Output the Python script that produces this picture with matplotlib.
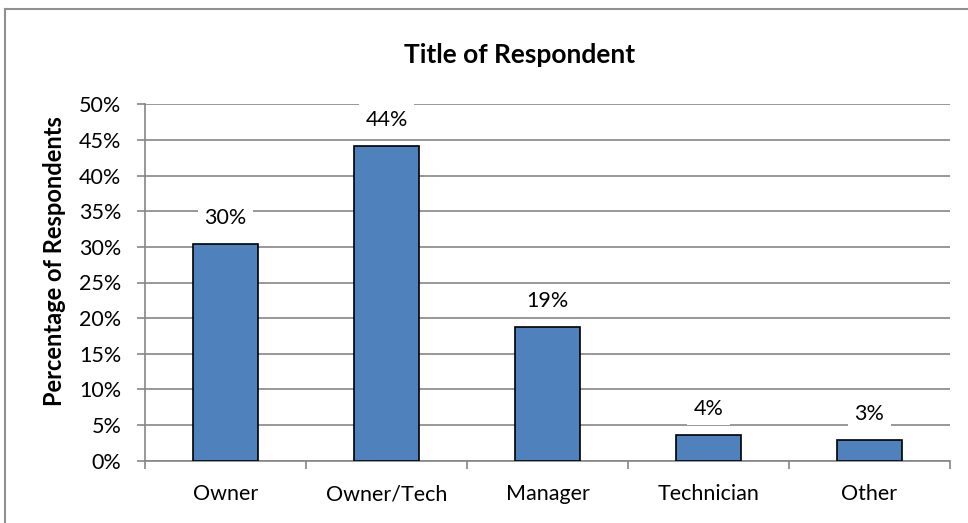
import matplotlib
matplotlib.use("Agg")
import matplotlib.pyplot as plt
from matplotlib.ticker import FixedLocator, FuncFormatter
from matplotlib.lines import Line2D
import numpy as np

categories = ["Owner", "Owner/Tech", "Manager", "Technician", "Other"]
values = [30.4, 44.2, 18.8, 3.6, 2.9]
labels = ["30%", "44%", "19%", "4%", "3%"]
yticks = [0, 5, 10, 15, 20, 25, 30, 35, 40, 45, 50]

plt.rcParams['font.family'] = ['Lato', 'DejaVu Sans']

fig = plt.figure(figsize=(9.68, 5.23), dpi=100)
ax = fig.add_axes([145/968, 1-460.7/523, (950-145)/968, (460.7-104.3)/523])

grid_c = "#868686"
x = np.arange(len(categories))
ax.bar(x, values, width=0.4, color="#4F81BD", edgecolor="black", linewidth=1.2, zorder=3)

ax.set_xlim(-0.5, len(categories)-0.5)
ax.set_ylim(0, 50)
ax.yaxis.set_major_locator(FixedLocator(yticks))
ax.yaxis.set_major_formatter(FuncFormatter(lambda v, p: f"{v:.0f}%"))
ax.yaxis.grid(True, color=grid_c, linewidth=1.2, zorder=0)
ax.set_axisbelow(True)

ax.set_xticks(x)
ax.set_xticklabels(categories, fontsize=15.5)
ax.set_xticks(np.arange(-0.5, len(categories)), minor=True)
ax.tick_params(axis='x', which='major', length=0, pad=17)
ax.tick_params(axis='x', which='minor', length=6, color=grid_c, width=1.2, direction='out')
ax.tick_params(axis='y', length=6, color=grid_c, width=1.2, labelsize=15.5, pad=11)

for s in ['top', 'right']:
    ax.spines[s].set_visible(False)
for s in ['left', 'bottom']:
    ax.spines[s].set_color(grid_c)
    ax.spines[s].set_linewidth(1.2)

for xi, v, lab in zip(x, values, labels):
    ax.annotate(lab, (xi, v), xytext=(0, 26), textcoords='offset pixels',
                ha='center', va='center', fontsize=15.5, zorder=4,
                bbox=dict(boxstyle='square,pad=0.3', facecolor='white', edgecolor='none'))

ax.set_ylabel("Percentage of Respondents", fontsize=17, fontweight='bold')
ax.yaxis.set_label_coords(66/968, 0.5, transform=fig.transFigure)
fig.text(520/968, 1-55/523, "Title of Respondent", ha='center', va='center',
         fontsize=19, fontweight='bold')

# chart border (left and top visible)
fig.add_artist(Line2D([5/968, 5/968], [0, 1-9/523], transform=fig.transFigure, color="#909090", linewidth=1.5))
fig.add_artist(Line2D([5/968, 1], [1-9/523, 1-9/523], transform=fig.transFigure, color="#909090", linewidth=1.5))

fig.savefig("out.png", dpi=100)
